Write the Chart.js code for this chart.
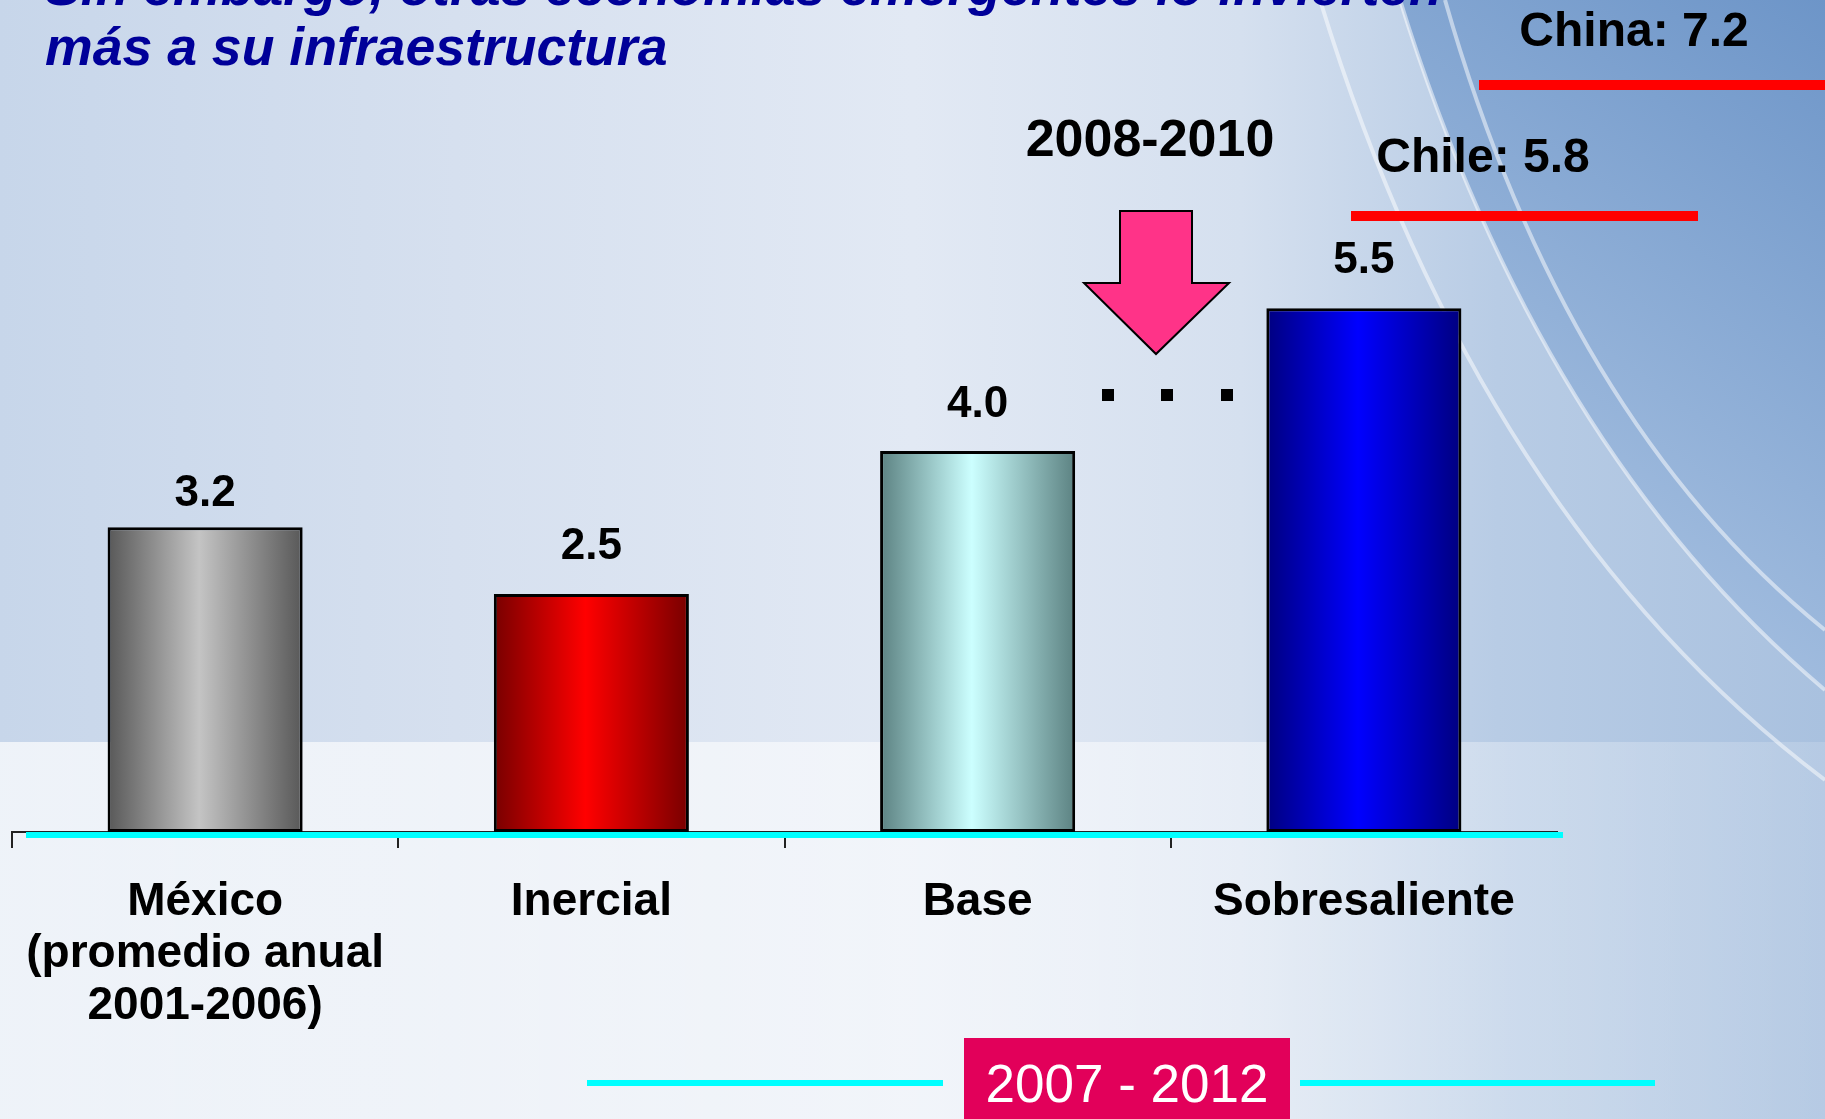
<!DOCTYPE html>
<html>
<head>
<meta charset="utf-8">
<script src="https://cdn.jsdelivr.net/npm/chart.js@4.4.1/dist/chart.umd.min.js"></script>
<style>
  html, body { margin: 0; padding: 0; overflow: hidden; background: #dfe7f2; }
  #wrap { position: relative; width: 1825px; height: 1119px; }
  #c { position: absolute; left: 0; top: 0; }
  #title {
    position: absolute; left: 45px; top: -44px; margin: 0;
    font: italic bold 53.6px "Liberation Sans", Arial, sans-serif;
    line-height: 60px; color: #000099; white-space: nowrap;
  }
</style>
</head>
<body>
<div id="wrap">
  <canvas id="c" width="1825" height="1119"></canvas>
  <div id="title">Sin embargo, otras economías emergentes lo invierten<br>más a su infraestructura</div>
</div>
<script>
// datos
const categories = [['México', '(promedio anual', '2001-2006)'], 'Inercial', 'Base', 'Sobresaliente'];
const values = [3.2, 2.5, 4.0, 5.5];
const edgeColors = ['#585858', '#780000', '#5c8282', '#000080'];
const centerColors = ['#c4c4c4', '#ff0000', '#ccffff', '#0000ff'];
const refNames = ['China', 'Chile'];
const refValues = [7.2, 5.8];
const arrowLabel = '2008-2010';
const periodLabel = '2007 - 2012';

const FONT = '"Liberation Sans", Arial, sans-serif';
const BAR_PCT = 0.505;
const labelGaps = [21, 35, 34, 35]; // distancia etiqueta-barra en px

// degradado horizontal de cada barra
function barFill(c) {
  const chart = c.chart;
  const area = chart.chartArea;
  const i = c.dataIndex;
  if (!area) return centerColors[i];
  const x = chart.scales.x.getPixelForValue(i);
  const half = area.width / categories.length * BAR_PCT / 2;
  const g = chart.ctx.createLinearGradient(x - half, 0, x + half, 0);
  g.addColorStop(0, edgeColors[i]);
  g.addColorStop(0.47, centerColors[i]);
  g.addColorStop(1, edgeColors[i]);
  return g;
}

const backdrop = {
  id: 'backdrop',
  beforeDraw(chart) {
    const { ctx, width, height } = chart;
    ctx.save();
    let g = ctx.createLinearGradient(0, 0, width, 0);
    g.addColorStop(0, '#c7d6ea');
    g.addColorStop(0.25, '#d6e0ef');
    g.addColorStop(0.5, '#e2e9f4');
    g.addColorStop(0.68, '#d5e0ef');
    g.addColorStop(0.82, '#b8cce5');
    g.addColorStop(1, '#a9c1df');
    ctx.fillStyle = g;
    ctx.fillRect(0, 0, width, height);

    // esquina azul
    ctx.beginPath();
    ctx.moveTo(1400, 0);
    ctx.quadraticCurveTo(1540, 450, 1825, 690);
    ctx.lineTo(1825, 0);
    ctx.closePath();
    g = ctx.createLinearGradient(1825, 0, 1480, 480);
    g.addColorStop(0, '#6d95c8');
    g.addColorStop(1, '#a2bddf');
    ctx.fillStyle = g;
    ctx.fill();

    // arcos blancos
    ctx.strokeStyle = 'rgba(255,255,255,0.5)';
    ctx.lineWidth = 4;
    [[1400, 1540, 450, 690], [1445, 1565, 420, 630], [1320, 1480, 520, 780]].forEach(a => {
      ctx.beginPath();
      ctx.moveTo(a[0], 0);
      ctx.quadraticCurveTo(a[1], a[2], 1825, a[3]);
      ctx.stroke();
    });

    // franja inferior clara
    g = ctx.createLinearGradient(0, 0, width, 0);
    g.addColorStop(0, 'rgba(255,255,255,0.7)');
    g.addColorStop(0.6, 'rgba(255,255,255,0.5)');
    g.addColorStop(1, 'rgba(255,255,255,0.15)');
    ctx.fillStyle = g;
    ctx.fillRect(0, 742, width, height - 742);
    ctx.restore();
  }
};

const valueLabels = {
  id: 'valueLabels',
  afterDatasetsDraw(chart) {
    const ctx = chart.ctx;
    ctx.save();
    ctx.font = 'bold 44px ' + FONT;
    ctx.fillStyle = '#000';
    ctx.textAlign = 'center';
    ctx.textBaseline = 'alphabetic';
    chart.getDatasetMeta(0).data.forEach((bar, i) => {
      ctx.fillText(values[i].toFixed(1), bar.x, bar.y - labelGaps[i]);
    });
    ctx.restore();
  }
};

const overlay = {
  id: 'overlay',
  afterDraw(chart) {
    const ctx = chart.ctx;
    const area = chart.chartArea;
    const xs = chart.scales.x;
    const step = xs.getPixelForValue(1) - xs.getPixelForValue(0);
    const axisLeft = xs.getPixelForValue(0) - step / 2;
    const axisRight = xs.getPixelForValue(categories.length - 1) + step / 2;
    ctx.save();

    // linea cian del eje
    ctx.fillStyle = '#00ffff';
    ctx.fillRect(axisLeft + 14, area.bottom, axisRight - axisLeft - 8, 6);

    // flecha 2008-2010
    ctx.beginPath();
    ctx.moveTo(1120, 211);
    ctx.lineTo(1192, 211);
    ctx.lineTo(1192, 283);
    ctx.lineTo(1229, 283);
    ctx.lineTo(1156, 354);
    ctx.lineTo(1084, 283);
    ctx.lineTo(1120, 283);
    ctx.closePath();
    ctx.fillStyle = '#ff3388';
    ctx.fill();
    ctx.lineWidth = 2;
    ctx.strokeStyle = '#000';
    ctx.stroke();

    // puntos
    ctx.fillStyle = '#000';
    [1108, 1167, 1227].forEach(x => ctx.fillRect(x - 6, 389, 12, 12));

    ctx.textAlign = 'center';
    ctx.textBaseline = 'alphabetic';
    ctx.font = 'bold 52px ' + FONT;
    ctx.fillText(arrowLabel, 1150, 156);

    // referencias China / Chile
    ctx.font = 'bold 48px ' + FONT;
    ctx.fillText(refNames[0] + ': ' + refValues[0].toFixed(1), 1634, 46);
    ctx.fillText(refNames[1] + ': ' + refValues[1].toFixed(1), 1483, 172);
    ctx.fillStyle = '#ff0000';
    ctx.fillRect(1479, 80, 346, 10);
    ctx.fillRect(1351, 211, 347, 10);

    // periodo
    ctx.fillStyle = '#00ffff';
    ctx.fillRect(587, 1080, 356, 6);
    ctx.fillRect(1300, 1080, 355, 6);
    ctx.fillStyle = '#e2005a';
    ctx.fillRect(964, 1038, 326, 90);
    ctx.fillStyle = '#fff';
    ctx.font = '53px ' + FONT;
    ctx.fillText(periodLabel, 1127, 1102);
    ctx.restore();
  }
};

new Chart(document.getElementById('c'), {
  type: 'bar',
  data: {
    labels: categories,
    datasets: [{
      data: values,
      backgroundColor: barFill,
      borderColor: '#000',
      borderWidth: 3,
      borderSkipped: false,
      barPercentage: BAR_PCT,
      categoryPercentage: 1
    }]
  },
  options: {
    responsive: false,
    animation: false,
    devicePixelRatio: 1,
    layout: { padding: { left: 12, right: 268, top: 70, bottom: 0 } },
    plugins: { legend: { display: false }, tooltip: { enabled: false } },
    scales: {
      y: { display: false, min: 0, max: 8 },
      x: {
        offset: true,
        grid: {
          display: true, offset: true, drawOnChartArea: false, drawTicks: true,
          tickLength: 16, lineWidth: 2,
          color: c => c.index === undefined ? 'rgba(0,0,0,0)' : '#222'
        },
        border: { display: true, color: '#222', width: 2 },
        ticks: {
          color: '#000', padding: 28, maxRotation: 0, autoSkip: false,
          font: { family: FONT, size: 46, weight: 'bold', lineHeight: 52 / 46 }
        },
        afterFit(axis) {
          axis.height = 287;
          axis.paddingLeft = 0;
          axis.paddingRight = 0;
        }
      }
    }
  },
  plugins: [backdrop, valueLabels, overlay]
});
</script>
</body>
</html>
